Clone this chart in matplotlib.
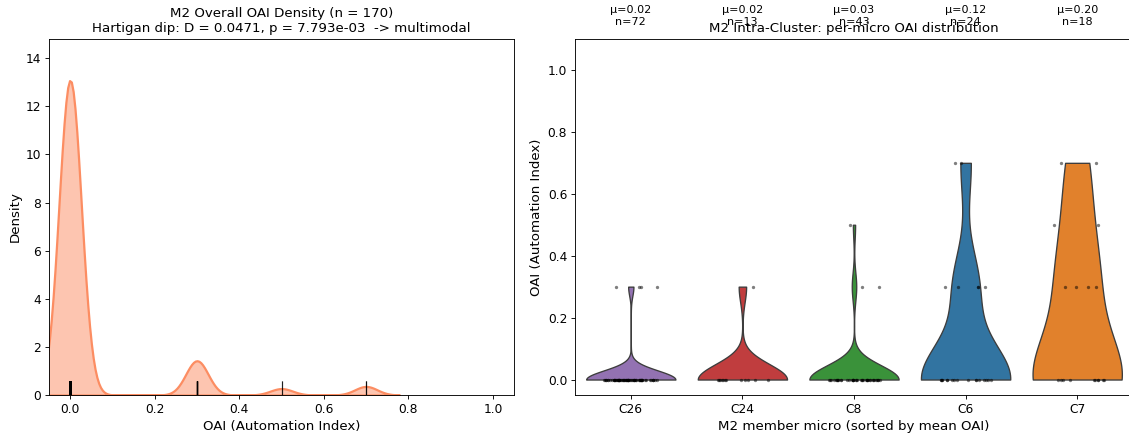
import numpy as np
import pandas as pd
import matplotlib
matplotlib.use("Agg")
import matplotlib.pyplot as plt
import seaborn as sns


# ------------------------------------------------------------
# Data: OAI level counts per M2 member micro
# ------------------------------------------------------------

oai_levels = [0.0, 0.3, 0.5, 0.7]

micro_order = ["C26", "C24", "C8", "C6", "C7"]
micro_colors = ["#9467bd", "#d62728", "#2ca02c", "#1f77b4", "#ff7f0e"]

counts_c26 = [68, 4, 0, 0]
counts_c24 = [12, 1, 0, 0]
counts_c8 = [40, 2, 1, 0]
counts_c6 = [17, 5, 0, 2]
counts_c7 = [10, 4, 2, 2]

hartigan_D = 0.0471
hartigan_p = 7.793e-03

level_counts = {
    "C26": counts_c26,
    "C24": counts_c24,
    "C8": counts_c8,
    "C6": counts_c6,
    "C7": counts_c7,
}

rows = []
for micro in micro_order:
    vals = np.repeat(oai_levels, level_counts[micro])
    rows.append(pd.DataFrame({"micro": micro, "OAI": vals}))
df = pd.concat(rows, ignore_index=True)


# ------------------------------------------------------------
# Figure
# ------------------------------------------------------------

dpi = 80
fig = plt.figure(figsize=(1129 / dpi, 439 / dpi), dpi=dpi)

ax1 = fig.add_axes([49 / 1129, 44 / 439, 465 / 1129, 356 / 439])
ax2 = fig.add_axes([575 / 1129, 44 / 439, 558 / 1129, 356 / 439])


# Left: overall density with rug
sns.kdeplot(x=df["OAI"], ax=ax1, bw_adjust=0.5, fill=True,
            color="#fc8d62", linewidth=2, alpha=0.5)
sns.rugplot(x=df["OAI"], ax=ax1, height=0.04, color="black",
            alpha=0.5, linewidth=1)

ax1.set_xlim(-0.05, 1.05)
ax1.set_ylim(0, 14.8)
ax1.set_title(
    f"M2 Overall OAI Density (n = {len(df)})\n"
    f"Hartigan dip: D = {hartigan_D:.4f}, p = {hartigan_p:.3e}  -> multimodal",
    fontsize=12,
)
ax1.set_xlabel("OAI (Automation Index)", fontsize=12)
ax1.set_ylabel("Density", fontsize=12)
ax1.tick_params(labelsize=11)


# Right: per-micro violins with points
np.random.seed(3)
sns.violinplot(data=df, x="micro", y="OAI", order=micro_order,
               hue="micro", hue_order=micro_order, palette=micro_colors,
               legend=False, density_norm="width", cut=0, inner=None,
               linewidth=1.2, ax=ax2)
sns.stripplot(data=df, x="micro", y="OAI", order=micro_order,
              color="black", alpha=0.5, size=3, jitter=0.25, ax=ax2)

# mean / count labels above each violin
for i, micro in enumerate(micro_order):
    sub = df.loc[df["micro"] == micro, "OAI"]
    ax2.text(i, 1.14, f"μ={sub.mean():.2f}\nn={len(sub)}",
             ha="center", va="bottom", fontsize=10, clip_on=False)

ax2.set_xlim(-0.5, 4.5)
ax2.set_ylim(-0.05, 1.1)
ax2.set_title("M2 Intra-Cluster: per-micro OAI distribution", fontsize=12)
ax2.set_xlabel("M2 member micro (sorted by mean OAI)", fontsize=12)
ax2.set_ylabel("OAI (Automation Index)", fontsize=12)
ax2.tick_params(labelsize=11)

fig.savefig("out.png", dpi=dpi)
